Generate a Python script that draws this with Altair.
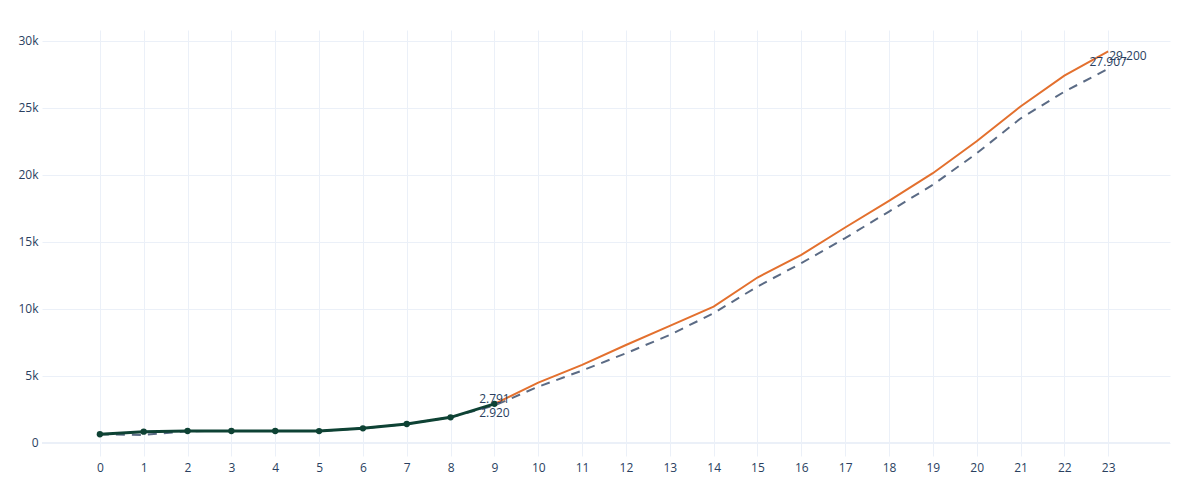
import altair as alt
import pandas as pd

# ---- data ----
x_all = list(range(24))
actual_x = list(range(10))
actual_y = [650, 845, 895, 895, 895, 890, 1095, 1415, 1915, 2920]
forecast_x = list(range(9, 24))
forecast_y = [2920, 4500, 5820, 7310, 8730, 10170, 12340, 14030, 16070, 18060,
              20120, 22500, 25100, 27400, 29200]
baseline_y = [650, 600, 880, 895, 895, 890, 1095, 1415, 1915, 2791, 4200, 5400,
              6690, 8060, 9680, 11670, 13410, 15280, 17260, 19250, 21600, 24200,
              26200, 27907]
y_ticks = [0, 5000, 10000, 15000, 20000, 25000, 30000]

FONT = "Open Sans"
TXT = "#2a3f5f"
GRID = "#EBF0F8"

def fmt(v):
    return f"{v:,}".replace(",", ".")

df_actual = pd.DataFrame({"x": actual_x, "y": actual_y})
df_fc = pd.DataFrame({"x": forecast_x, "y": forecast_y})
df_base = pd.DataFrame({"x": x_all, "y": baseline_y})

xs = alt.Scale(domain=[-1.32, 24.41], nice=False, zero=False)
ys = alt.Scale(domain=[-970, 30800], nice=False, zero=False)

xaxis = alt.Axis(values=x_all, grid=True, gridColor=GRID, gridWidth=1, domain=False,
                 ticks=False, labelPadding=6, labelFont=FONT, labelFontSize=12,
                 labelColor=TXT, title=None, labelFlush=False, format="d")
yaxis = alt.Axis(values=y_ticks, grid=True, gridColor=GRID, gridWidth=1, domain=False,
                 ticks=False, labelPadding=4, labelFont=FONT, labelFontSize=12,
                 labelColor=TXT, title=None,
                 labelExpr="datum.value == 0 ? '0' : (datum.value/1000) + 'k'")

X = alt.X("x:Q", scale=xs, axis=xaxis)
Y = alt.Y("y:Q", scale=ys, axis=yaxis)

dashed = alt.Chart(df_base).mark_line(color="#5b6b85", strokeWidth=2, strokeDash=[9, 7]).encode(
    x=X, y=Y)

zero = alt.Chart(pd.DataFrame({"y": [0]})).mark_rule(color=GRID, strokeWidth=2).encode(y=Y)

orange = alt.Chart(df_fc).mark_line(color="#e3702e", strokeWidth=2).encode(x=X, y=Y)

green = alt.Chart(df_actual).mark_line(color="#0e4234", strokeWidth=3,
                                        point=alt.OverlayMarkDef(filled=True, size=40, color="#0e4234")).encode(
    x=X, y=Y)

def label(xv, yv, txt, dx, dy, align):
    d = pd.DataFrame({"x": [xv], "y": [yv], "t": [txt]})
    return alt.Chart(d).mark_text(font=FONT, fontSize=12, color=TXT, dx=dx, dy=dy,
                                  align=align, baseline="middle").encode(
        x=X, y=Y, text="t:N")

labels = (label(9, baseline_y[9], fmt(baseline_y[9]), 0, -7, "center")
          + label(9, actual_y[-1], fmt(actual_y[-1]), 0, 9, "center")
          + label(23, baseline_y[-1], fmt(baseline_y[-1]), 0, -7, "center")
          + label(23, forecast_y[-1], fmt(forecast_y[-1]), 1, 5, "left"))

chart = alt.layer(zero, dashed, orange, green, labels).properties(
    width=1128, height=426,
    background="white",
    autosize=alt.AutoSizeParams(type="none"),
    padding={"left": 34, "top": 22, "right": 10, "bottom": 30},
).configure_view(stroke="transparent", strokeWidth=0)

chart.save("out.html", embed_options={"renderer": "svg", "actions": False})
